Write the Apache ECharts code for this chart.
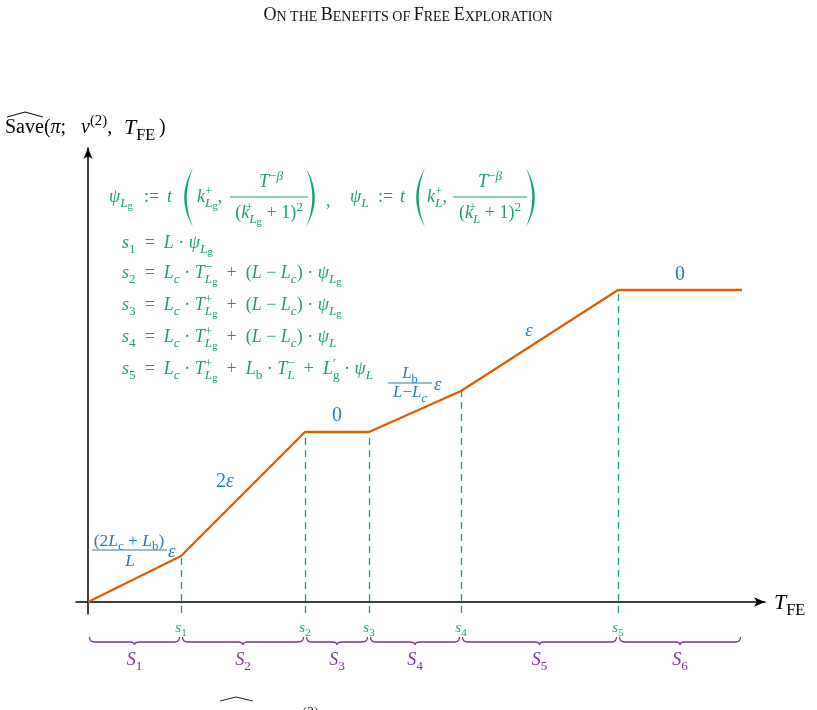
<!DOCTYPE html>
<html>
<head>
<meta charset="utf-8">
<script src="https://cdn.jsdelivr.net/npm/echarts@6/dist/echarts.min.js"></script>
<style>html,body{margin:0;background:#fff}#c{width:817px;height:710px}</style>
</head>
<body>
<div id="c"></div>
<script>
// breakpoints of the piecewise linear curve (x: T_FE, y: Save)
const breakX = [0, 9.3, 21.7, 28.1, 37.3, 53.0, 65.4];
const saveY = [0, 4.6, 17.0, 17.0, 21.1, 31.2, 31.2];
const breakNames = ['1', '2', '3', '4', '5'];
const segmentNames = ['1', '2', '3', '4', '5', '6'];

const SERIF = "'Liberation Serif','DejaVu Serif',serif";
const ORANGE = '#d95f02', TEAL = '#1b9e77', PURPLE = '#7b3294', BLUE = '#2a7ab9', BLACK = '#000';

// rich styles: sub/superscripts are shifted with padding (top pad = down, bottom pad = up)
function rich(F, color) {
  const b = { fontFamily: SERIF, color: color, fill: color, lineHeight: 2 * F };
  const sub = { ...b, fontSize: 0.74 * F, padding: [0.68 * F, 0, 0, 0] };
  const sup = { ...b, fontSize: 0.74 * F, padding: [0, 0, 0.66 * F, 0] };
  return {
    r: { ...b, fontSize: F },
    i: { ...b, fontSize: F, fontStyle: 'italic' },
    sr: sub,
    si: { ...sub, fontStyle: 'italic' },
    ssr: { ...b, fontSize: 0.6 * F, padding: [1.05 * F, 0, 0, 0] },
    sp: sup,
    spi: { ...sup, fontStyle: 'italic' },
    spz: { ...sup, width: 0 }
  };
}

function tx(x, y, s, F, color, align) {
  return {
    type: 'text', x: x, y: y, silent: true,
    style: { text: s, rich: rich(F, color), align: align || 'left', verticalAlign: 'middle', fill: color, fontSize: F, fontFamily: SERIF }
  };
}
function bar(x1, x2, y, color) {
  return { type: 'line', silent: true, shape: { x1: x1, y1: y, x2: x2, y2: y }, style: { stroke: color, lineWidth: 1 } };
}
// crescent shaped big parenthesis, dir -1 = left, 1 = right
function paren(x0, y1, y2, dir, color) {
  const ym = (y1 + y2) / 2, pts = [];
  const q = (t, c) => [(1 - t) * (1 - t) * x0 + 2 * t * (1 - t) * c + t * t * x0, (1 - t) * (1 - t) * y1 + 2 * t * (1 - t) * ym + t * t * y2];
  for (let k = 0; k <= 20; k++) pts.push(q(k / 20, x0 + dir * 17.5));
  for (let k = 20; k >= 0; k--) pts.push(q(k / 20, x0 + dir * 12.5));
  return { type: 'polygon', silent: true, shape: { points: pts }, style: { fill: color } };
}

const F = 18;
const PSI_LG = '{i|ψ}{si|L}{ssr|g}';
const graphics = [
  // title
  {
    type: 'text', x: 408, y: 15, silent: true,
    style: {
      text: '{a|O}{b|N THE }{a|B}{b|ENEFITS OF }{a|F}{b|REE }{a|E}{b|XPLORATION}',
      align: 'center', verticalAlign: 'middle',
      rich: {
        a: { fontFamily: SERIF, fontSize: 18, lineHeight: 18, verticalAlign: 'bottom', fill: '#111' },
        b: { fontFamily: SERIF, fontSize: 14, lineHeight: 14, verticalAlign: 'bottom', fill: '#111' }
      }
    }
  },
  // axis names
  tx(5, 128, '{r|Save(}{i|π}{r|;}', 20, BLACK),
  tx(81, 128, '{i|ν}{sp|(2)}{r|,}', 20, BLACK),
  tx(124, 128, '{i|T}{sr|FE}', 22, BLACK),
  tx(159, 128, '{r|)}', 20, BLACK),
  { type: 'polyline', silent: true, shape: { points: [[7, 117], [25, 112], [43, 117]] }, style: { stroke: BLACK, lineWidth: 1, fill: null } },
  tx(774, 603, '{i|T}{sr|FE}', 22, BLACK),

  // definitions
  tx(109, 197, PSI_LG, F, TEAL),
  tx(144, 197, '{r|:=}', F, TEAL),
  tx(167, 197, '{i|t}', F, TEAL),
  paren(193, 168, 227, -1, TEAL),
  tx(197, 197, '{i|k}{spz|+}{si|L}{ssr|g}{r|,}', F, TEAL),
  tx(271, 182, '{i|T}{sp|−}{spi|β}', F, TEAL, 'center'),
  bar(230, 308, 197, TEAL),
  tx(269, 213, '{r|(}{i|k}{spz|+}{si|L}{ssr|g}{r| + 1)}{sp|2}', F, TEAL, 'center'),
  paren(306, 168, 227, 1, TEAL),
  tx(326, 201, '{r|,}', F, TEAL),
  tx(350, 197, '{i|ψ}{si|L}', F, TEAL),
  tx(378, 197, '{r|:=}', F, TEAL),
  tx(400, 197, '{i|t}', F, TEAL),
  paren(425, 168, 227, -1, TEAL),
  tx(427, 197, '{i|k}{spz|+}{si|L}{r|,}', F, TEAL),
  tx(490, 182, '{i|T}{sp|−}{spi|β}', F, TEAL, 'center'),
  bar(453, 527, 197, TEAL),
  tx(490, 213, '{r|(}{i|k}{spz|+}{si|L}{r| + 1)}{sp|2}', F, TEAL, 'center'),
  paren(526, 168, 227, 1, TEAL),

  tx(122, 243, '{i|s}{sr|1}{r|  =  }{i|L}{r| · }' + PSI_LG, F, TEAL),
  tx(122, 273, '{i|s}{sr|2}{r|  =  }{i|L}{si|c}{r| · }{i|T}{spz|−}{si|L}{ssr|g}{r|  +  (}{i|L}{r| − }{i|L}{si|c}{r|) · }' + PSI_LG, F, TEAL),
  tx(122, 305, '{i|s}{sr|3}{r|  =  }{i|L}{si|c}{r| · }{i|T}{spz|+}{si|L}{ssr|g}{r|  +  (}{i|L}{r| − }{i|L}{si|c}{r|) · }' + PSI_LG, F, TEAL),
  tx(122, 337, '{i|s}{sr|4}{r|  =  }{i|L}{si|c}{r| · }{i|T}{spz|+}{si|L}{ssr|g}{r|  +  (}{i|L}{r| − }{i|L}{si|c}{r|) · }{i|ψ}{si|L}', F, TEAL),
  tx(122, 369, '{i|s}{sr|5}{r|  =  }{i|L}{si|c}{r| · }{i|T}{spz|+}{si|L}{ssr|g}{r|  +  }{i|L}{sr|b}{r| · }{i|T}{spz|−}{si|L}{r|  +  }{i|L}{spz|′}{sr|g}{r| · }{i|ψ}{si|L}', F, TEAL),

  // slope labels
  tx(129, 541, '{r|(2}{i|L}{sr|c}{r| + }{i|L}{sr|b}{r|)}', 17.5, BLUE, 'center'),
  bar(92, 167, 550, BLUE),
  tx(130, 561, '{i|L}', 17.5, BLUE, 'center'),
  tx(168, 552, '{i|ε}', 19, BLUE),
  tx(216, 482, '{r|2}{i|ε}', 20, BLUE),
  tx(337, 416, '{r|0}', 20, BLUE, 'center'),
  tx(410, 374, '{i|L}{sr|b}', 17, BLUE, 'center'),
  bar(388, 432, 383, BLUE),
  tx(410, 393, '{i|L}{r|−}{i|L}{si|c}', 17, BLUE, 'center'),
  tx(434, 385, '{i|ε}', 19, BLUE),
  tx(529, 331, '{i|ε}', 19, BLUE, 'center'),
  tx(680, 275, '{r|0}', 20, BLUE, 'center'),

  // caption cut by the page edge
  tx(40, 720, '{r|Figure 4: An illustration of Save}', 19, '#222'),
  tx(268, 720, '{r|(}{i|π}{r|; }{i|ν}{sp|(2)}{r|, }{i|T}{sr|FE}{r|) as a function of the free exploration time.}', 19, '#222'),
  { type: 'polyline', silent: true, shape: { points: [[220, 701], [236, 697], [253, 701]] }, style: { stroke: '#222', lineWidth: 1, fill: null } }
];

const axisLine = { show: true, onZero: true, symbol: ['none', 'arrow'], symbolSize: [7, 11], lineStyle: { color: BLACK, width: 1.5 } };

const chart = echarts.init(document.getElementById('c'));
chart.setOption({
  animation: false,
  grid: { left: 76, right: 52, top: 148, bottom: 96 },
  xAxis: {
    type: 'value', min: -1.2, max: 67.7,
    axisLine: axisLine, axisTick: { show: false }, axisLabel: { show: false }, splitLine: { show: false }
  },
  yAxis: {
    type: 'value', min: -1.2, max: 45.4,
    axisLine: axisLine, axisTick: { show: false }, axisLabel: { show: false }, splitLine: { show: false }
  },
  graphic: graphics,
  series: [
    {
      type: 'line',
      data: breakX.map((x, i) => [x, saveY[i]]),
      symbol: 'none',
      lineStyle: { color: ORANGE, width: 2.3 },
      z: 5,
      markLine: {
        silent: true,
        symbol: ['none', 'none'],
        lineStyle: { type: [7, 5], color: TEAL, width: 1.3 },
        label: {
          show: true, position: 'start', distance: 0,
          formatter: p => '{i|s}{sr|' + p.name + '}',
          rich: rich(15, TEAL)
        },
        data: breakX.slice(1, 6).map((x, k) => [
          { name: breakNames[k], coord: [x, -1.1] },
          { coord: [x, saveY[k + 1]] }
        ])
      }
    },
    {
      type: 'custom',
      silent: true,
      data: segmentNames.map((n, i) => [breakX[i], breakX[i + 1], i + 1]),
      encode: { x: [0, 1], y: 2 },
      renderItem: function (params, api) {
        const p1 = api.coord([api.value(0), 0]);
        const p2 = api.coord([api.value(1), 0]);
        const x1 = p1[0] + 1.5, x2 = p2[0] - 1.5, xm = (x1 + x2) / 2, y0 = p1[1] + 35;
        const d = `M${x1} ${y0} Q${x1} ${y0 + 5} ${x1 + 5} ${y0 + 5} L${xm - 5} ${y0 + 5} Q${xm} ${y0 + 5} ${xm} ${y0 + 8}` +
          ` Q${xm} ${y0 + 5} ${xm + 5} ${y0 + 5} L${x2 - 5} ${y0 + 5} Q${x2} ${y0 + 5} ${x2} ${y0}`;
        return {
          type: 'group',
          children: [
            { type: 'path', shape: { pathData: d }, style: { stroke: PURPLE, fill: 'none', lineWidth: 1.3 } },
            {
              type: 'text',
              style: {
                x: xm, y: y0 + 23, text: '{i|S}{sr|' + segmentNames[params.dataIndex] + '}',
                rich: rich(18, PURPLE), align: 'center', verticalAlign: 'middle', fill: PURPLE
              }
            }
          ]
        };
      }
    }
  ]
});
</script>
</body>
</html>
